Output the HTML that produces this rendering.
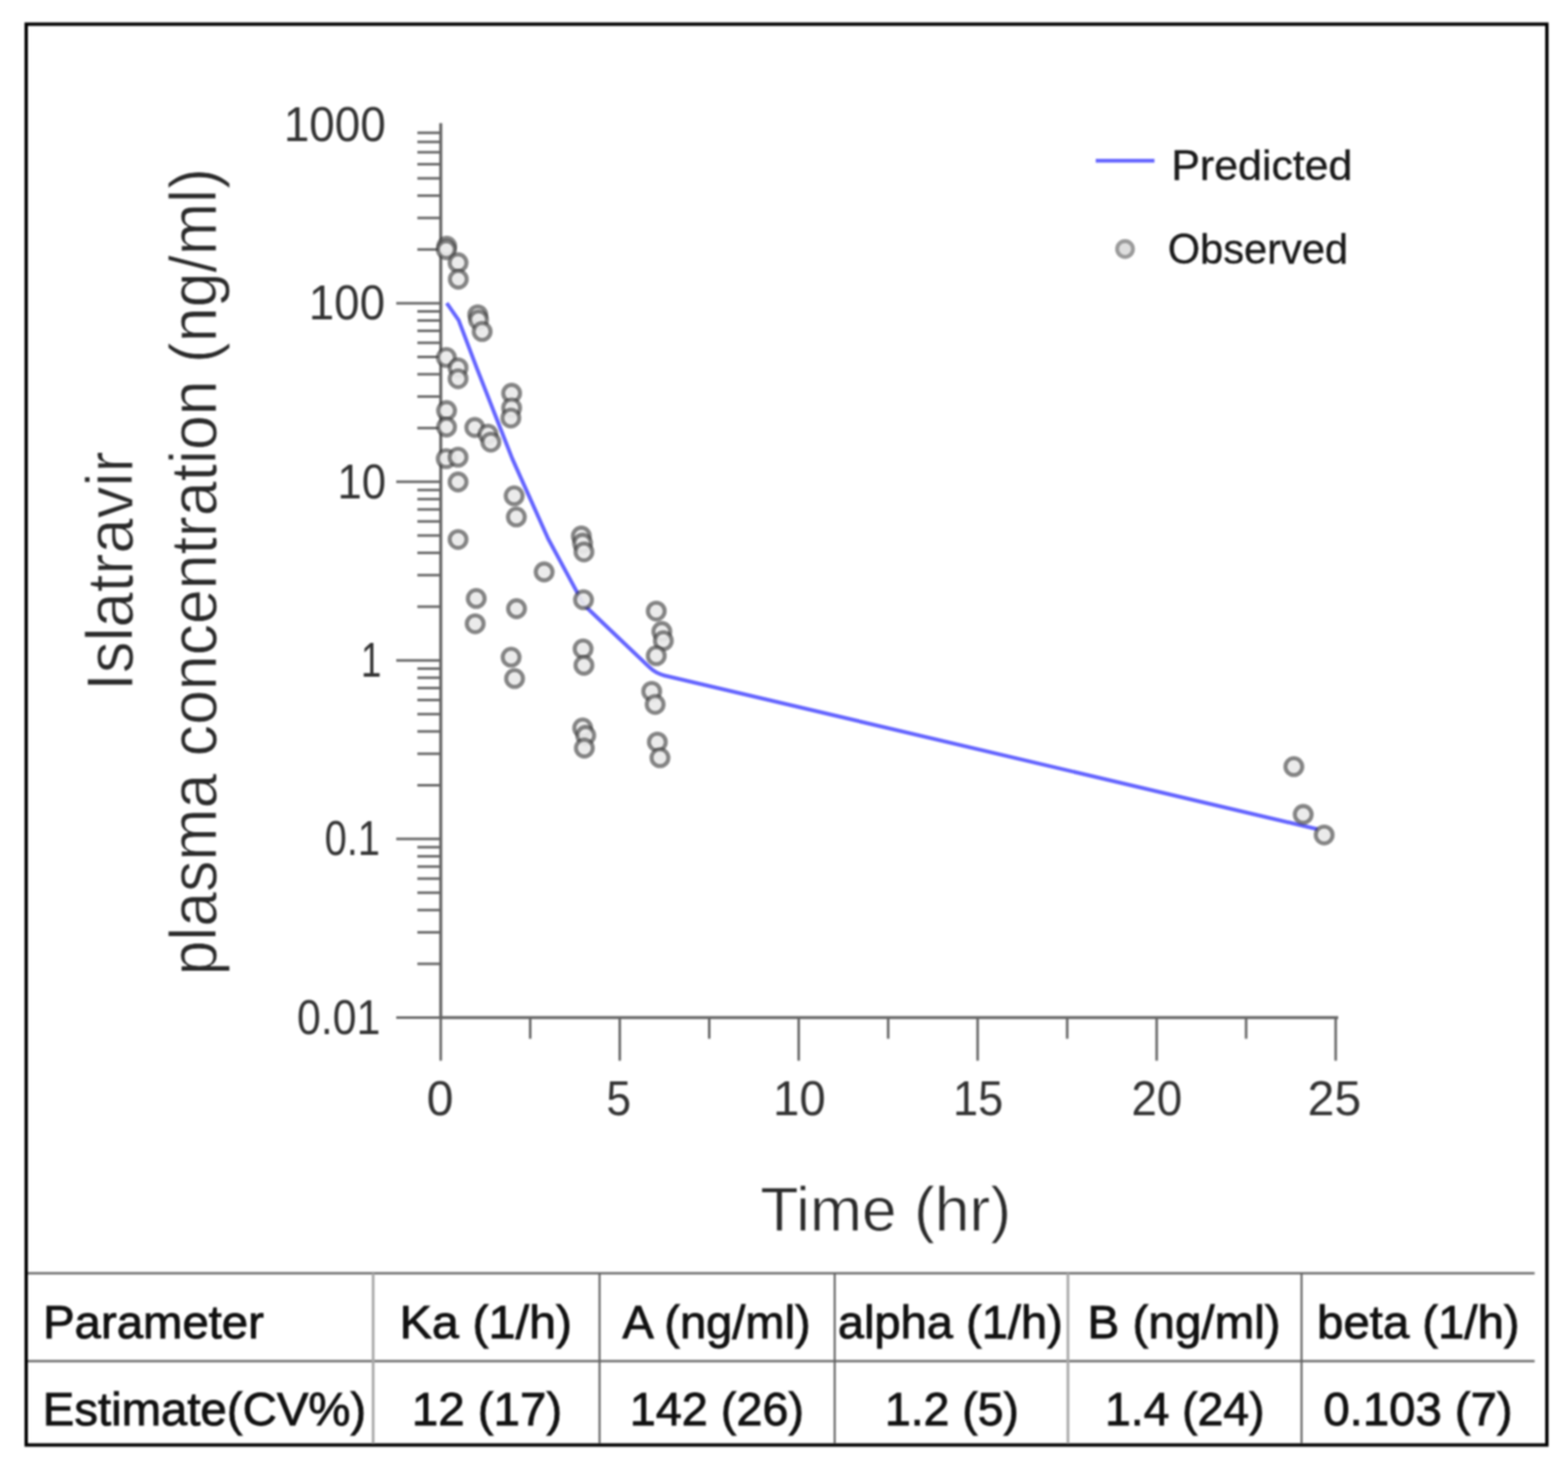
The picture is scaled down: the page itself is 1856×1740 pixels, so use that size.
<!DOCTYPE html><html><head><meta charset="utf-8"><title>Islatravir plasma concentration</title><style>html,body{margin:0;padding:0;background:#fff;overflow:hidden;}svg{display:block;filter:blur(1.0px);}</style></head><body><svg width="1856" height="1740" viewBox="0 0 1856 1740">
<defs><filter id="bl" filterUnits="userSpaceOnUse" x="0" y="0" width="1856" height="1740"><feGaussianBlur stdDeviation="0.0"/></filter></defs>
<rect width="100%" height="100%" fill="#fff"/>
<g>
<rect x="31" y="28.6" width="1800" height="1681.8" fill="none" stroke="#000" stroke-width="4"/>
<g stroke="#666666" stroke-width="3" fill="none"><line x1="469" y1="1204.5" x2="521.7" y2="1204.5"/><line x1="469" y1="993.1" x2="521.7" y2="993.1"/><line x1="469" y1="781.7" x2="521.7" y2="781.7"/><line x1="469" y1="570.3" x2="521.7" y2="570.3"/><line x1="469" y1="358.9" x2="521.7" y2="358.9"/><line x1="494" y1="1140.9" x2="521.7" y2="1140.9"/><line x1="494" y1="1103.6" x2="521.7" y2="1103.6"/><line x1="494" y1="1077.2" x2="521.7" y2="1077.2"/><line x1="494" y1="1056.7" x2="521.7" y2="1056.7"/><line x1="494" y1="1040.0" x2="521.7" y2="1040.0"/><line x1="494" y1="1025.8" x2="521.7" y2="1025.8"/><line x1="494" y1="1013.6" x2="521.7" y2="1013.6"/><line x1="494" y1="1002.8" x2="521.7" y2="1002.8"/><line x1="494" y1="929.5" x2="521.7" y2="929.5"/><line x1="494" y1="892.2" x2="521.7" y2="892.2"/><line x1="494" y1="865.8" x2="521.7" y2="865.8"/><line x1="494" y1="845.3" x2="521.7" y2="845.3"/><line x1="494" y1="828.6" x2="521.7" y2="828.6"/><line x1="494" y1="814.4" x2="521.7" y2="814.4"/><line x1="494" y1="802.2" x2="521.7" y2="802.2"/><line x1="494" y1="791.4" x2="521.7" y2="791.4"/><line x1="494" y1="718.1" x2="521.7" y2="718.1"/><line x1="494" y1="680.8" x2="521.7" y2="680.8"/><line x1="494" y1="654.4" x2="521.7" y2="654.4"/><line x1="494" y1="633.9" x2="521.7" y2="633.9"/><line x1="494" y1="617.2" x2="521.7" y2="617.2"/><line x1="494" y1="603.0" x2="521.7" y2="603.0"/><line x1="494" y1="590.8" x2="521.7" y2="590.8"/><line x1="494" y1="580.0" x2="521.7" y2="580.0"/><line x1="494" y1="506.7" x2="521.7" y2="506.7"/><line x1="494" y1="469.4" x2="521.7" y2="469.4"/><line x1="494" y1="443.0" x2="521.7" y2="443.0"/><line x1="494" y1="422.5" x2="521.7" y2="422.5"/><line x1="494" y1="405.8" x2="521.7" y2="405.8"/><line x1="494" y1="391.6" x2="521.7" y2="391.6"/><line x1="494" y1="379.4" x2="521.7" y2="379.4"/><line x1="494" y1="368.6" x2="521.7" y2="368.6"/><line x1="494" y1="295.3" x2="521.7" y2="295.3"/><line x1="494" y1="258.0" x2="521.7" y2="258.0"/><line x1="494" y1="231.6" x2="521.7" y2="231.6"/><line x1="494" y1="211.1" x2="521.7" y2="211.1"/><line x1="494" y1="194.4" x2="521.7" y2="194.4"/><line x1="494" y1="180.2" x2="521.7" y2="180.2"/><line x1="494" y1="168.0" x2="521.7" y2="168.0"/><line x1="494" y1="157.2" x2="521.7" y2="157.2"/><line x1="521.7" y1="1204.5" x2="521.7" y2="1255.5"/><line x1="733.6" y1="1204.5" x2="733.6" y2="1255.5"/><line x1="945.4" y1="1204.5" x2="945.4" y2="1255.5"/><line x1="1157.2" y1="1204.5" x2="1157.2" y2="1255.5"/><line x1="1369.1" y1="1204.5" x2="1369.1" y2="1255.5"/><line x1="1581.0" y1="1204.5" x2="1581.0" y2="1255.5"/><line x1="627.6" y1="1204.5" x2="627.6" y2="1229.5"/><line x1="839.5" y1="1204.5" x2="839.5" y2="1229.5"/><line x1="1051.3" y1="1204.5" x2="1051.3" y2="1229.5"/><line x1="1263.2" y1="1204.5" x2="1263.2" y2="1229.5"/><line x1="1475.0" y1="1204.5" x2="1475.0" y2="1229.5"/></g>
<g stroke="#666666" stroke-width="3.6" fill="none" stroke-linecap="square"><line x1="521.7" y1="147.5" x2="521.7" y2="1204.5"/><line x1="521.7" y1="1204.5" x2="1582.2" y2="1204.5"/></g>
<g font-family="'Liberation Sans', Arial, sans-serif"><text id="t_y1000" x="456.6" y="166.8" text-anchor="end" font-size="58" fill="#333" stroke="none" stroke-width="0" textLength="120.7" lengthAdjust="spacingAndGlyphs">1000</text><text id="t_y100" x="455.8" y="378.2" text-anchor="end" font-size="58" fill="#333" stroke="none" stroke-width="0" textLength="90.3" lengthAdjust="spacingAndGlyphs">100</text><text id="t_y10" x="456.9" y="589.6" text-anchor="end" font-size="58" fill="#333" stroke="none" stroke-width="0" textLength="57.4" lengthAdjust="spacingAndGlyphs">10</text><text id="t_y1" x="451.4" y="801.0" text-anchor="end" font-size="58" fill="#333" stroke="none" stroke-width="0" textLength="24.2" lengthAdjust="spacingAndGlyphs">1</text><text id="t_y0.1" x="449.9" y="1012.4" text-anchor="end" font-size="58" fill="#333" stroke="none" stroke-width="0" textLength="65.7" lengthAdjust="spacingAndGlyphs">0.1</text><text id="t_y0.01" x="450.4" y="1223.8" text-anchor="end" font-size="58" fill="#333" stroke="none" stroke-width="0" textLength="99.0" lengthAdjust="spacingAndGlyphs">0.01</text><text id="t_x0" x="521.0" y="1320.0" text-anchor="middle" font-size="58" fill="#333" stroke="none" stroke-width="0" textLength="31.8" lengthAdjust="spacingAndGlyphs">0</text><text id="t_x5" x="732.4" y="1320.0" text-anchor="middle" font-size="58" fill="#333" stroke="none" stroke-width="0" textLength="29.2" lengthAdjust="spacingAndGlyphs">5</text><text id="t_x10" x="946.2" y="1320.0" text-anchor="middle" font-size="58" fill="#333" stroke="none" stroke-width="0" textLength="62.3" lengthAdjust="spacingAndGlyphs">10</text><text id="t_x15" x="1157.7" y="1320.0" text-anchor="middle" font-size="58" fill="#333" stroke="none" stroke-width="0" textLength="59.5" lengthAdjust="spacingAndGlyphs">15</text><text id="t_x20" x="1369.3" y="1320.0" text-anchor="middle" font-size="58" fill="#333" stroke="none" stroke-width="0" textLength="60.2" lengthAdjust="spacingAndGlyphs">20</text><text id="t_x25" x="1579.5" y="1320.0" text-anchor="middle" font-size="58" fill="#333" stroke="none" stroke-width="0" textLength="63.4" lengthAdjust="spacingAndGlyphs">25</text><text id="t_Time" x="1048.4" y="1457.0" text-anchor="middle" font-size="75" fill="#2a2a2a" stroke="#fff" stroke-width="0.9" textLength="296.9" lengthAdjust="spacingAndGlyphs">Time (hr)</text><text id="t_Islatravir" transform="translate(156.5,676.0) rotate(-90)" text-anchor="middle" font-size="77" fill="#2a2a2a" stroke="#fff" stroke-width="0.9" textLength="283.3" lengthAdjust="spacingAndGlyphs">Islatravir</text><text id="t_plasma" transform="translate(255.5,676.9) rotate(-90)" text-anchor="middle" font-size="77" fill="#2a2a2a" stroke="#fff" stroke-width="0.9" textLength="955.4" lengthAdjust="spacingAndGlyphs">plasma concentration (ng/ml)</text><text id="t_Predicted" x="1386.5" y="213.2" text-anchor="start" font-size="50" fill="#1a1a1a" stroke="#1a1a1a" stroke-width="0.4" textLength="214.3" lengthAdjust="spacingAndGlyphs">Predicted</text><text id="t_Observed" x="1382.2" y="312.1" text-anchor="start" font-size="50" fill="#1a1a1a" stroke="#1a1a1a" stroke-width="0.4" textLength="213.5" lengthAdjust="spacingAndGlyphs">Observed</text><text id="t_Parameter" x="51.0" y="1583.8" text-anchor="start" font-size="56" fill="#111111" stroke="#111111" stroke-width="1.0" textLength="261.4" lengthAdjust="spacingAndGlyphs">Parameter</text><text id="t_Estimate" x="50.5" y="1687.2" text-anchor="start" font-size="56" fill="#111111" stroke="#111111" stroke-width="1.0" textLength="383.0" lengthAdjust="spacingAndGlyphs">Estimate(CV%)</text><text id="t_Ka" x="575.1" y="1583.8" text-anchor="middle" font-size="56" fill="#111111" stroke="#111111" stroke-width="1.0" textLength="204.1" lengthAdjust="spacingAndGlyphs">Ka (1/h)</text><text id="t_12(17)" x="576.4" y="1687.2" text-anchor="middle" font-size="56" fill="#111111" stroke="#111111" stroke-width="1.0" textLength="178.0" lengthAdjust="spacingAndGlyphs">12 (17)</text><text id="t_A" x="848.2" y="1583.8" text-anchor="middle" font-size="56" fill="#111111" stroke="#111111" stroke-width="1.0" textLength="222.8" lengthAdjust="spacingAndGlyphs">A (ng/ml)</text><text id="t_142" x="848.6" y="1687.2" text-anchor="middle" font-size="56" fill="#111111" stroke="#111111" stroke-width="1.0" textLength="206.0" lengthAdjust="spacingAndGlyphs">142 (26)</text><text id="t_alpha" x="1124.9" y="1583.8" text-anchor="middle" font-size="56" fill="#111111" stroke="#111111" stroke-width="1.0" textLength="266.4" lengthAdjust="spacingAndGlyphs">alpha (1/h)</text><text id="t_1.2" x="1126.7" y="1687.2" text-anchor="middle" font-size="56" fill="#111111" stroke="#111111" stroke-width="1.0" textLength="158.5" lengthAdjust="spacingAndGlyphs">1.2 (5)</text><text id="t_B" x="1401.6" y="1583.8" text-anchor="middle" font-size="56" fill="#111111" stroke="#111111" stroke-width="1.0" textLength="228.5" lengthAdjust="spacingAndGlyphs">B (ng/ml)</text><text id="t_1.4" x="1402.4" y="1687.2" text-anchor="middle" font-size="56" fill="#111111" stroke="#111111" stroke-width="1.0" textLength="189.0" lengthAdjust="spacingAndGlyphs">1.4 (24)</text><text id="t_beta" x="1678.9" y="1583.8" text-anchor="middle" font-size="56" fill="#111111" stroke="#111111" stroke-width="1.0" textLength="239.6" lengthAdjust="spacingAndGlyphs">beta (1/h)</text><text id="t_0.103" x="1678.5" y="1687.2" text-anchor="middle" font-size="56" fill="#111111" stroke="#111111" stroke-width="1.0" textLength="224.0" lengthAdjust="spacingAndGlyphs">0.103 (7)</text></g>
<path d="M 528.8 358.8 L 542.9 379 L 564.1 435 L 606.4 543 L 648.8 637.6 L 691.2 716 L 768 789.2 Q 776 797 786 799.4 L 1559.6 981.5" fill="none" stroke="#6464ff" stroke-width="4.6" stroke-linejoin="round" stroke-linecap="butt"/>
<g fill="rgba(233,233,233,0.93)" stroke="rgba(50,50,50,0.58)" stroke-width="4.8"><circle cx="528.8" cy="291.5" r="10.0"/><circle cx="528.3" cy="295.5" r="10.0"/><circle cx="542.2" cy="311" r="10.0"/><circle cx="542.5" cy="330.5" r="10.0"/><circle cx="565.5" cy="372.6" r="10.0"/><circle cx="566.4" cy="378.6" r="10.0"/><circle cx="570.7" cy="392.4" r="10.0"/><circle cx="528.4" cy="423.2" r="10.0"/><circle cx="542.2" cy="435.3" r="10.0"/><circle cx="542.2" cy="448.3" r="10.0"/><circle cx="528.6" cy="486" r="10.0"/><circle cx="528.6" cy="505.5" r="10.0"/><circle cx="528.2" cy="542.9" r="10.0"/><circle cx="542.2" cy="541.2" r="10.0"/><circle cx="542.2" cy="570.5" r="10.0"/><circle cx="542.2" cy="638.6" r="10.0"/><circle cx="562" cy="506" r="10.0"/><circle cx="577.6" cy="513.8" r="10.0"/><circle cx="581" cy="523.3" r="10.0"/><circle cx="605.6" cy="465.5" r="10.0"/><circle cx="605.6" cy="482.8" r="10.0"/><circle cx="604.7" cy="494.8" r="10.0"/><circle cx="608.6" cy="586.9" r="10.0"/><circle cx="611.2" cy="611.9" r="10.0"/><circle cx="644.1" cy="677" r="10.0"/><circle cx="688.1" cy="634.5" r="10.0"/><circle cx="689.6" cy="643" r="10.0"/><circle cx="691.2" cy="653.3" r="10.0"/><circle cx="690.7" cy="709.9" r="10.0"/><circle cx="563.7" cy="708.4" r="10.0"/><circle cx="562.5" cy="738.3" r="10.0"/><circle cx="611.4" cy="720.5" r="10.0"/><circle cx="605" cy="777.9" r="10.0"/><circle cx="609.1" cy="803.2" r="10.0"/><circle cx="690.2" cy="768.1" r="10.0"/><circle cx="691.2" cy="787.5" r="10.0"/><circle cx="689.7" cy="861.7" r="10.0"/><circle cx="693.3" cy="870.5" r="10.0"/><circle cx="691.7" cy="885.5" r="10.0"/><circle cx="776.8" cy="723.3" r="10.0"/><circle cx="783.4" cy="747.5" r="10.0"/><circle cx="785.2" cy="758.4" r="10.0"/><circle cx="776.8" cy="776.2" r="10.0"/><circle cx="771.4" cy="818.3" r="10.0"/><circle cx="775.5" cy="833.8" r="10.0"/><circle cx="778.1" cy="878.3" r="10.0"/><circle cx="781.2" cy="896.9" r="10.0"/><circle cx="1531.5" cy="907.4" r="10.0"/><circle cx="1542.6" cy="964" r="10.0"/><circle cx="1567.4" cy="988.3" r="10.0"/></g>
<line x1="1297" y1="190.3" x2="1366.5" y2="190.3" stroke="#6464ff" stroke-width="4.6"/>
<circle cx="1331.7" cy="294.8" r="9.4" fill="#dedede" stroke="#9a9a9a" stroke-width="4.6"/>
<g stroke="#6b6b6b" stroke-width="2.8"><line x1="33" y1="1507.2" x2="1816.5" y2="1507.2"/><line x1="33" y1="1611.2" x2="1816.5" y2="1611.2"/></g>
<g stroke="#a9a9a9" stroke-width="3.2"><line x1="441.7" y1="1507" x2="441.7" y2="1709"/><line x1="1264.1" y1="1507" x2="1264.1" y2="1709"/></g>
<g stroke="#626262" stroke-width="2.4"><line x1="709.7" y1="1507" x2="709.7" y2="1709"/><line x1="988" y1="1507" x2="988" y2="1709"/><line x1="1540.6" y1="1507" x2="1540.6" y2="1709"/></g>
</g></svg></body></html>
